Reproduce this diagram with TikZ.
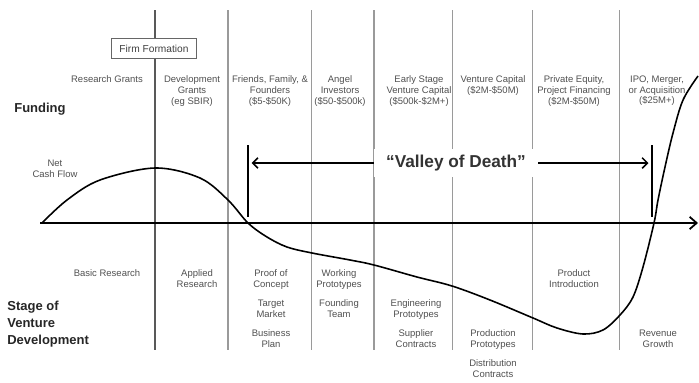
\documentclass[tikz,border=0pt]{standalone}
\usepackage{fontspec}
\setmainfont{Liberation Sans}
\usetikzlibrary{arrows.meta}
\definecolor{txtgray}{HTML}{505050}
\definecolor{linegray}{HTML}{9A9A9A}
\tikzset{
  petit/.style={font=\fontsize{5.4}{6.1}\selectfont, text=txtgray, align=center, inner sep=0pt, anchor=north},
  titre/.style={font=\fontsize{7.4}{9.6}\selectfont\bfseries, text=black!85, align=left, inner sep=0pt},
  colonne/.style={linegray, line width=0.6pt},
  pointe/.style={-{Straight Barb[length=3pt,width=6pt,line width=0.9pt]}},
}

\begin{document}
\begin{tikzpicture}[x=0.02cm, y=-0.02cm]
  \useasboundingbox (0,0) rectangle (699,382);
  % Colonnes
  \draw[black!65, line width=0.7pt] (155,10) -- (155,350);
  \foreach \x in {228, 311.7, 374, 452.7, 532.7, 619.3}
    \draw[colonne] (\x,10) -- (\x,350);

  % Axe
  \coordinate (o) at (40,223);
  \coordinate (xmax) at (698,223);
  \draw[line width=1.1pt, -{Straight Barb[length=4pt,width=7pt,line width=1pt]}] (o) -- (xmax);

  % Courbe du flux de tresorerie
  \draw[line width=0.9pt] plot[smooth, tension=0.55] coordinates {
    (42,223) (67,200) (100,180) (155,168) (200,178) (228,200) (248,223)
    (267,237) (287,247) (312,253) (350,260) (374,265) (417,277) (452,286)
    (490,300) (533,318) (557,328) (583,334) (603,330) (620,315) (633,297)
    (643,267) (654,223) (658,200) (665,167) (673,133) (683,100) (698,76)};

  % Vallee de la mort
  \coordinate (vg) at (248,163);
  \coordinate (vd) at (652,163);
  \draw[line width=0.9pt] (248,145) -- (248,217);
  \draw[line width=0.9pt] (652,145) -- (652,217);
  \draw[line width=0.9pt, pointe] (456,163) -- ([xshift=-2pt]vd);
  \draw[line width=0.9pt, pointe] (456,163) -- ([xshift=2pt]vg);
  \node[font=\fontsize{9.8}{11}\selectfont\bfseries, text=black!80, fill=white, inner xsep=7pt, inner ysep=3.4pt] (vallee) at (456,163) {``Valley of Death''};

  \node[draw=black!60, fill=white, line width=0.6pt, minimum width=48.8pt, minimum height=11.9pt, inner sep=0pt,
    font=\fontsize{5.8}{7}\selectfont, text=black!75] (firm) at (154,48.5) {Firm Formation};

  % Financement
  \foreach \nom/\x/\lbl in {
    rg/107/{Research Grants},
    dg/192/{Development\\Grants\\(eg SBIR)},
    ff/270/{Friends, Family, \&\\Founders\\(\$5-\$50K)},
    ai/340/{Angel\\Investors\\(\$50-\$500k)},
    es/419/{Early Stage\\Venture Capital\\(\$500k-\$2M+)},
    vc/493/{Venture Capital\\(\$2M-\$50M)},
    pe/574/{Private Equity,\\Project Financing\\(\$2M-\$50M)},
    ipo/657/{IPO, Merger,\\or Acquisition\\(\$25M+)}}
    \node[petit] (\nom) at (\x,75.5) {\lbl};

  % Etapes
  \foreach \nom/\x/\y/\lbl in {
    br/107/273/{Basic Research},
    ar/197/273/{Applied\\Research},
    pc/271/273/{Proof of\\Concept},
    tm/271/303/{Target\\Market},
    bp/271/333/{Business\\Plan},
    wp/339/273/{Working\\Prototypes},
    ft/339/303/{Founding\\Team},
    ep/416/303/{Engineering\\Prototypes},
    sc/416/333/{Supplier\\Contracts},
    pp/493/333/{Production\\Prototypes},
    dc/493/363/{Distribution\\Contracts},
    pi/574/273/{Product\\Introduction},
    rv/658/333/{Revenue\\Growth}}
    \node[petit] (\nom) at (\x,\y-3.5) {\lbl};

  \node[titre, anchor=west] (funding) at (14,109) {Funding};
  \node[titre, anchor=north west] (stage) at (7,301) {Stage of\\Venture\\Development};
  \node[petit, anchor=north] (ncf) at (55,159.5) {Net\\Cash Flow};
\end{tikzpicture}
\end{document}
